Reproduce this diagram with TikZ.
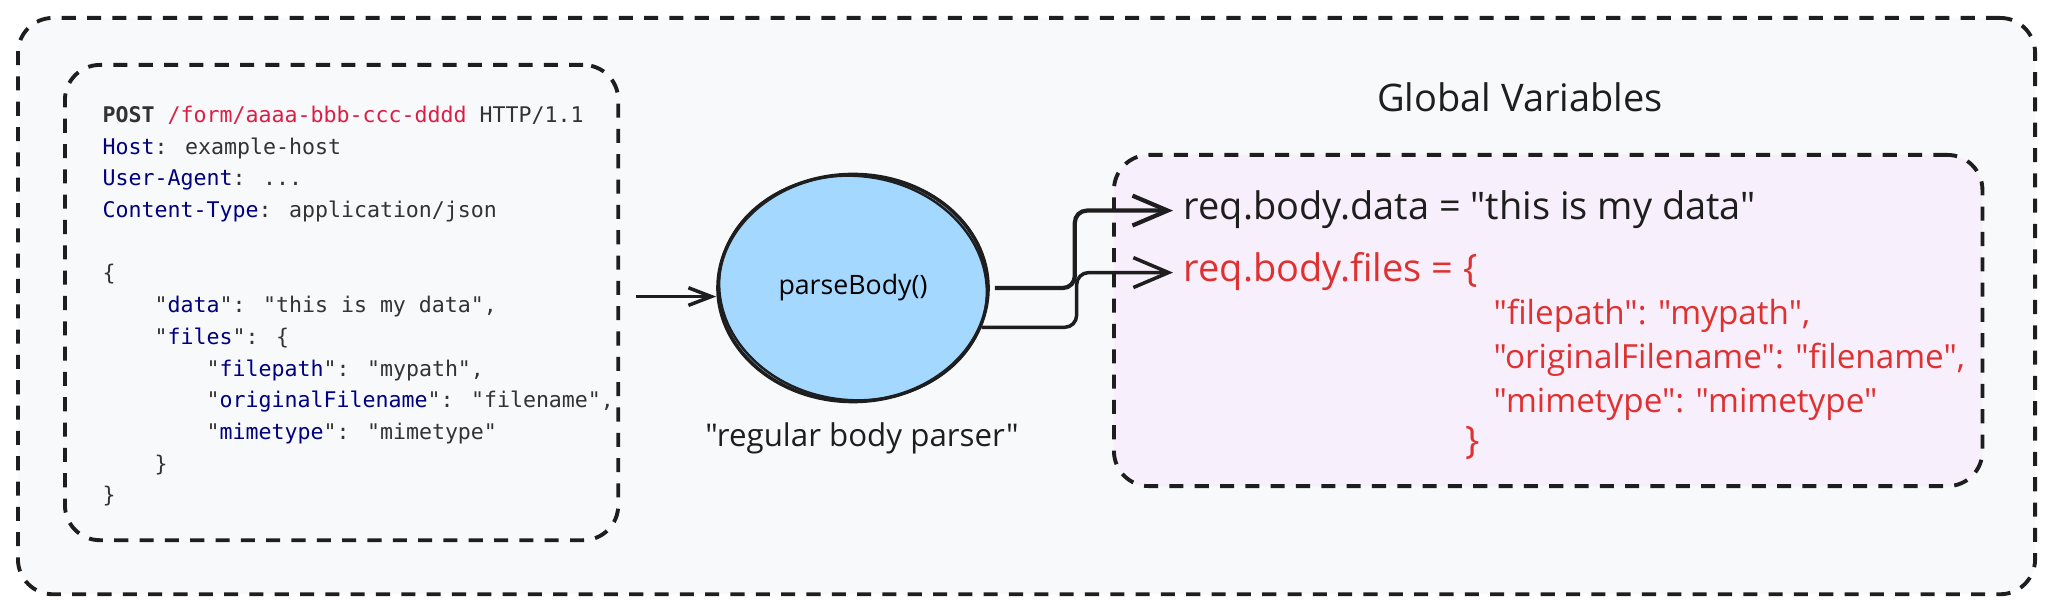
\documentclass[tikz,border=0pt]{standalone}
\usepackage{fontspec}
\setmainfont{Open Sans}[Ligatures=TeXOff]
\newfontfamily\codefont{DejaVu Sans Mono}
\usepackage{xcolor}
\usepackage{tikz}
\usetikzlibrary{arrows.meta,positioning,shapes.geometric}

\definecolor{bgcol}{HTML}{F8F9FA}
\definecolor{varcol}{HTML}{F7EFFB}
\definecolor{blobcol}{HTML}{A5D8FF}
\definecolor{inkcol}{HTML}{1E1E1E}
\definecolor{redcol}{HTML}{E03131}
\definecolor{keycol}{HTML}{000080}
\definecolor{pathcol}{HTML}{DC1E46}
\definecolor{codecol}{HTML}{333333}

\begin{document}
\begin{tikzpicture}[x=0.01cm,y=-0.01cm,
  dashbox/.style={draw=inkcol,line width=1.1pt,dash pattern=on 4pt off 3.2pt,
    rounded corners=0.35cm,inner sep=0},
  hand/.style={font=\fontsize{9.45}{11}\selectfont,text=inkcol,inner sep=0},
  big/.style={font=\fontsize{10.8}{12}\selectfont},
  code/.style={font=\codefont\fontsize{6.14}{9.02}\selectfont,text=codecol,
    align=left,inner sep=0},
  link/.style={draw=inkcol,line width=1pt,rounded corners=0.12cm,
    -{Straight Barb[length=10pt,width=8.5pt]}}]
  \useasboundingbox (0,0) rectangle (2048,607);
  \node[dashbox,fill=bgcol,minimum width=20.16cm,minimum height=5.76cm,anchor=north west] (frame) at (16,16) {};
  \node[dashbox,fill=bgcol,minimum width=5.53cm,minimum height=4.75cm,anchor=north west] (reqbox) at (63,63) {};
  \node[dashbox,fill=varcol,minimum width=8.68cm,minimum height=3.31cm,anchor=north west] (vars) at (1112,153) {};

  \node[code,anchor=base west] (req) at (102,503) {%
    \textbf{POST} {\color{pathcol}/form/aaaa-bbb-ccc-dddd} HTTP/1.1\\
    {\color{keycol}Host}: example-host\\
    {\color{keycol}User-Agent}: ...\\
    {\color{keycol}Content-Type}: application/json\\[9.02pt]
    \{\\
    \hphantom{0000}"{\color{keycol}data}": "this is my data",\\
    \hphantom{0000}"{\color{keycol}files}": \{\\
    \hphantom{00000000}"{\color{keycol}filepath}": "mypath",\\
    \hphantom{00000000}"{\color{keycol}originalFilename}": "filename",\\
    \hphantom{00000000}"{\color{keycol}mimetype}": "mimetype"\\
    \hphantom{0000}\}\\
    \}};

  \node[ellipse,draw=inkcol,line width=1pt,fill=blobcol,minimum width=2.7cm,minimum height=2.27cm,
    inner sep=0,font=\fontsize{7.6}{9}\selectfont] (parse) at (853,288) {parseBody()};
  \draw[inkcol,line width=0.7pt,rotate around={-6:(parse.center)}] (parse.center) ellipse (1.34cm and 1.12cm);
  \node[hand,anchor=base,font=\fontsize{8.9}{10}\selectfont] (parselabel) at (862,447) {"regular body parser"};

  \node[hand,big,anchor=base] (vartitle) at (1520,112) {Global Variables};
  \node[hand,big,anchor=base west,inner xsep=0.1cm] (data) at (1173,220) {req.body.data = "this is my data"};
  \node[hand,big,anchor=base west,inner xsep=0.1cm,text=redcol] (files) at (1173,282) {req.body.files = \{};
  \node[hand,anchor=base west,text=redcol] (fpath) at (1493,325) {"filepath": "mypath",};
  \node[hand,anchor=base west,text=redcol] (fname) at (1493,369) {"originalFilename": "filename",};
  \node[hand,anchor=base west,text=redcol] (ftype) at (1493,413) {"mimetype": "mimetype"};
  \node[hand,big,anchor=base west,text=redcol] (fend) at (1465,454) {\}};

  \draw[link,-{Straight Barb[length=6.5pt,width=5pt]}] ([xshift=0.16cm,yshift=0.06cm]reqbox.east)
    coordinate (inarr) -- (inarr -| parse.west);
  \draw[link,line width=1.2pt] ([xshift=0.05cm]parse.east) -- ++(80,0) |- (data.mid west);
  \draw[link] (parse.-17) -- ++(95,0) |- (files.mid west);
\end{tikzpicture}
\end{document}
